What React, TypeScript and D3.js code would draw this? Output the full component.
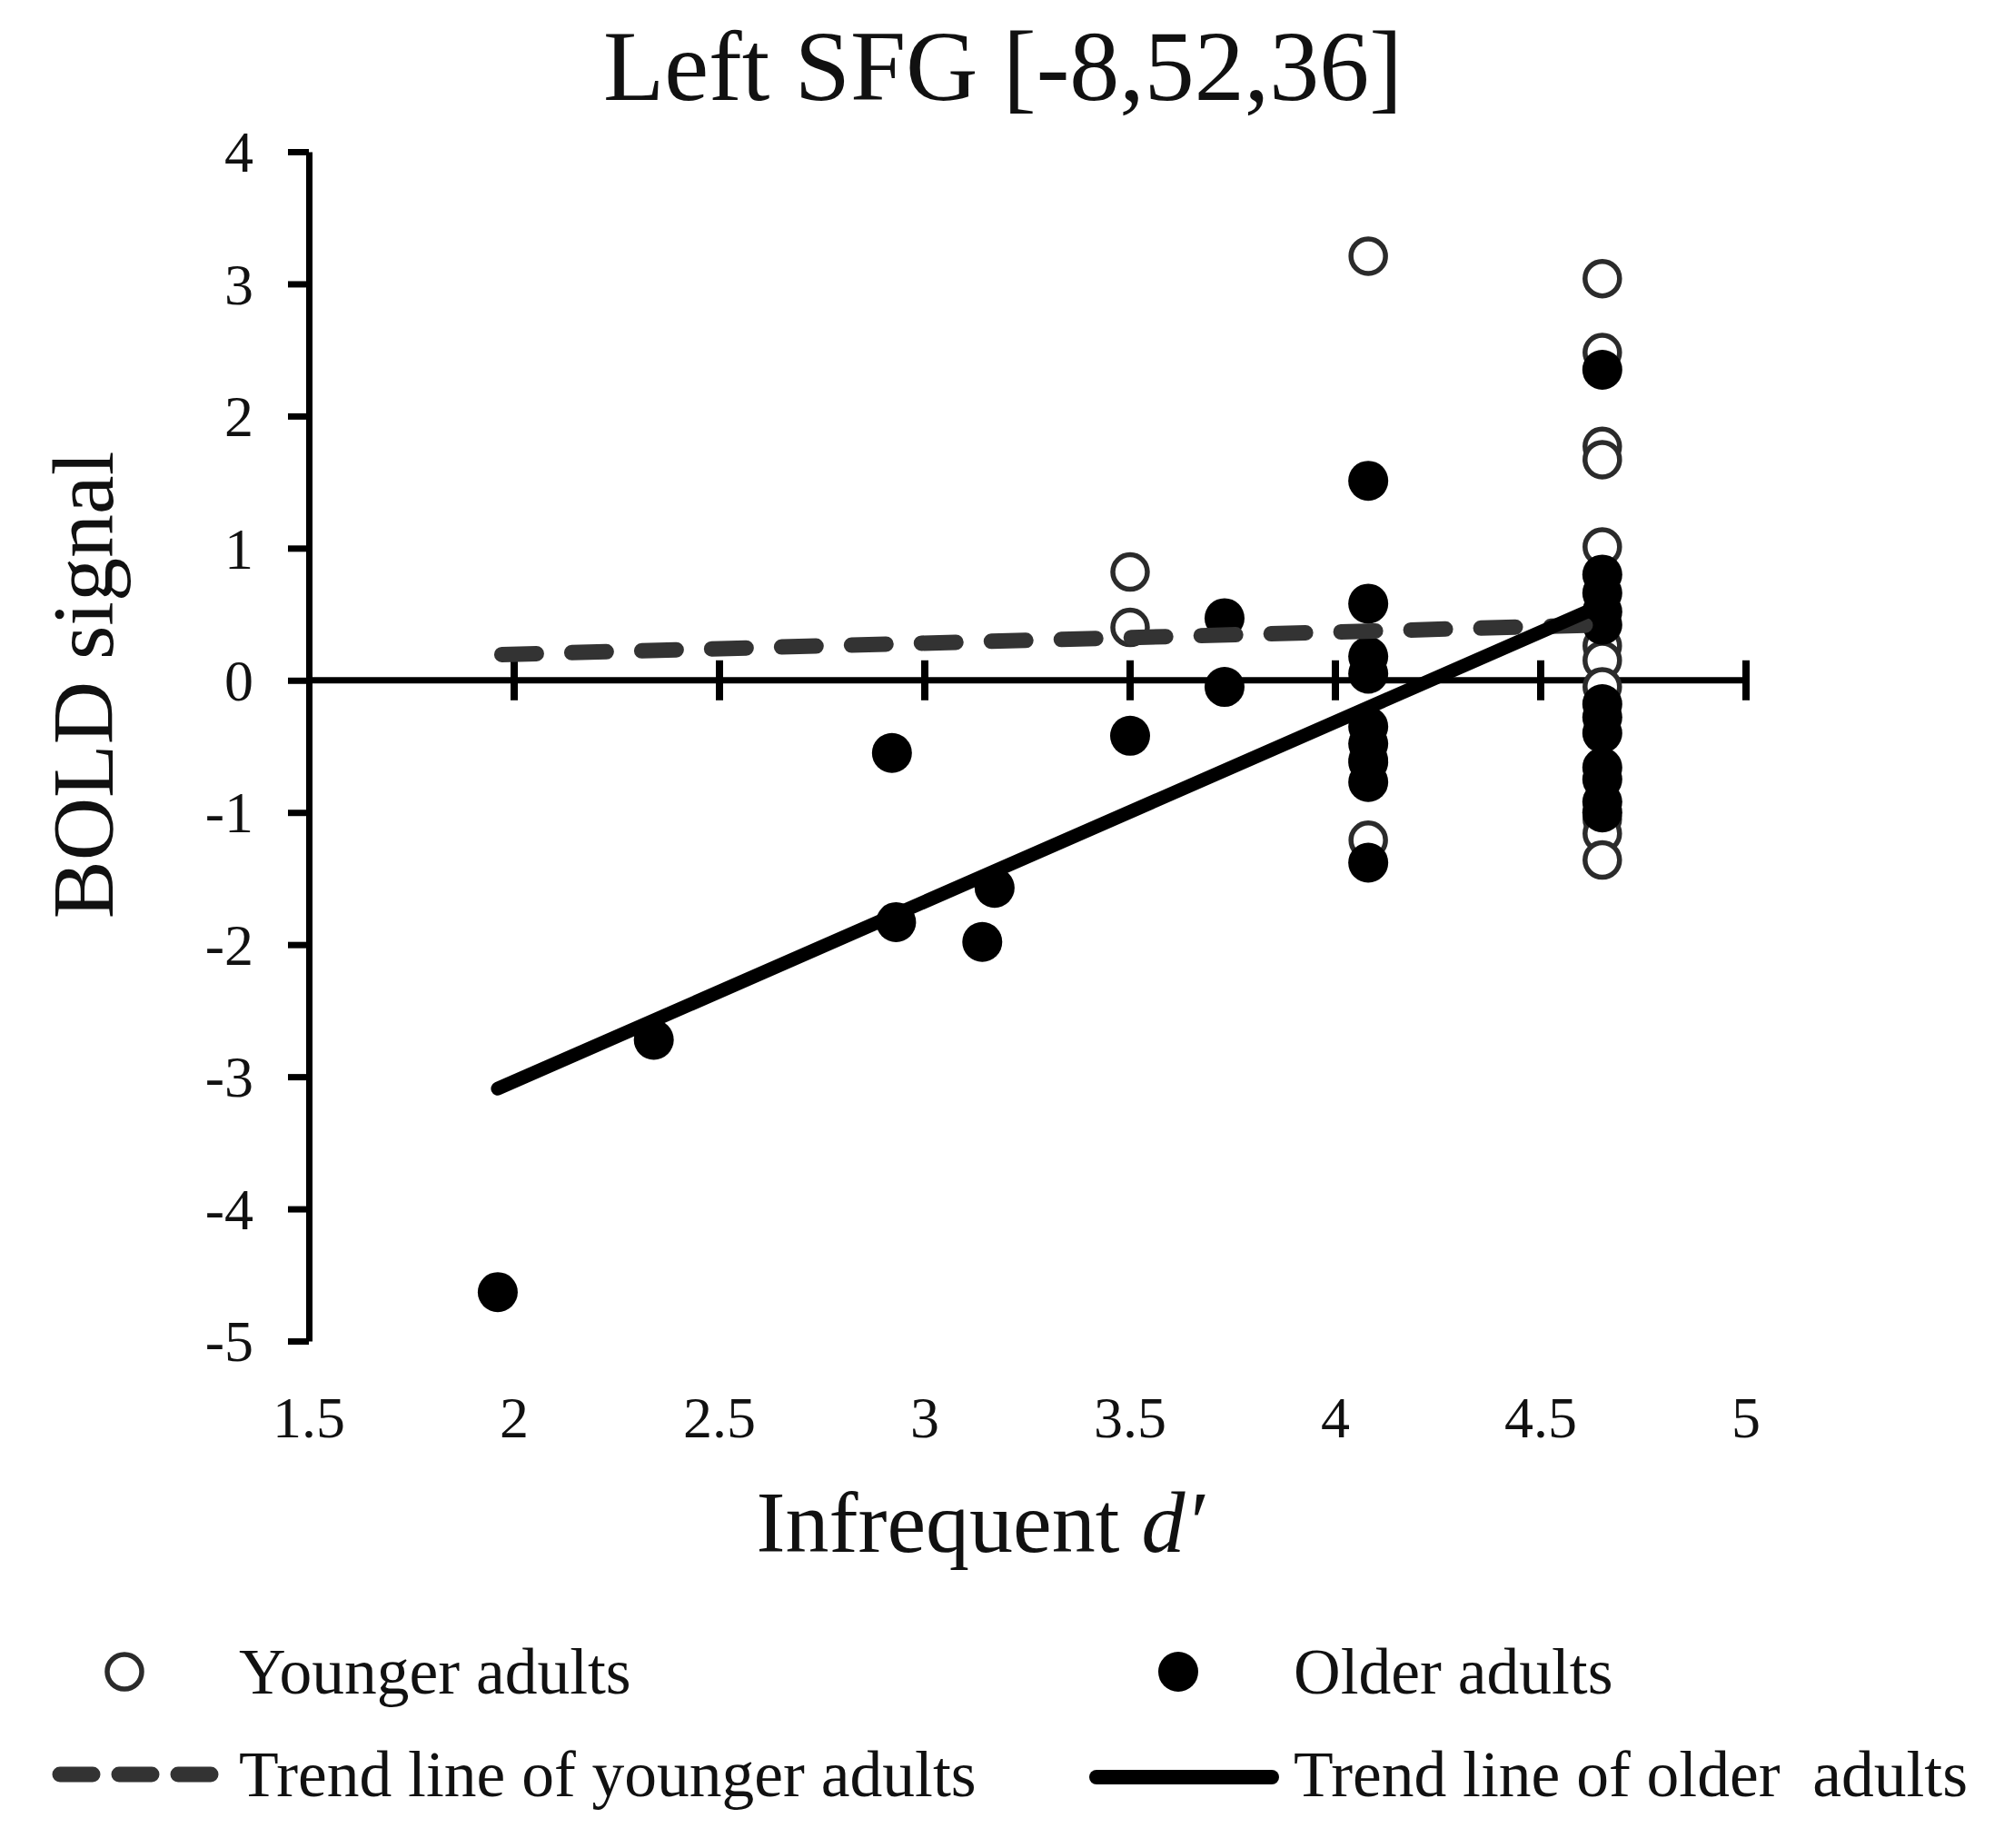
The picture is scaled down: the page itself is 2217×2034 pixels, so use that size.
import { useEffect, useRef } from 'react';
import * as d3 from 'd3';

// values
const xTicks = [1.5, 2, 2.5, 3, 3.5, 4, 4.5, 5];
const yTicks = [-5, -4, -3, -2, -1, 0, 1, 2, 3, 4];

const youngerPoints: [number, number][] = [
  [3.5, 0.82], [3.5, 0.40],
  [4.08, 3.21], [4.08, -0.6], [4.08, -1.21],
  [4.65, 3.04], [4.65, 2.48], [4.65, 1.77], [4.65, 1.67], [4.65, 1.01],
  [4.65, 0.26], [4.65, 0.15], [4.65, -0.05], [4.65, -1.05], [4.65, -1.16], [4.65, -1.36],
];

const olderPoints: [number, number][] = [
  [1.96, -4.63], [2.34, -2.72], [2.92, -0.55], [2.93, -1.83], [3.14, -1.98], [3.17, -1.57],
  [3.5, -0.42], [3.73, 0.47], [3.73, -0.05],
  [4.08, 1.51], [4.08, 0.58], [4.08, 0.18], [4.08, 0.05], [4.08, -0.35], [4.08, -0.48],
  [4.08, -0.62], [4.08, -0.77], [4.08, -1.38],
  [4.65, 2.35], [4.65, 0.80], [4.65, 0.66], [4.65, 0.52], [4.65, 0.42], [4.65, -0.18],
  [4.65, -0.28], [4.65, -0.40], [4.65, -0.66], [4.65, -0.75], [4.65, -0.92], [4.65, -1.0],
];

const youngerTrend: [number, number][] = [[1.97, 0.195], [4.65, 0.42]];
const olderTrend: [number, number][] = [[1.96, -3.09], [4.65, 0.57]];

const W = 2217;
const H = 2034;
const FONT = '"Liberation Serif", "Times New Roman", serif';

export default function App() {
  const svgRef = useRef<SVGSVGElement>(null);

  useEffect(() => {
    document.body.style.margin = '0';
    if (!svgRef.current) return;
    const svg = d3.select(svgRef.current);
    svg.selectAll('*').remove();

    const x = d3.scaleLinear().domain([1.5, 5]).range([340, 1922]);
    const y = d3.scaleLinear().domain([-5, 4]).range([1476, 167]);

    // y axis
    const yAxis = d3.axisLeft(y)
      .tickValues(yTicks)
      .tickSize(23)
      .tickSizeOuter(0)
      .tickPadding(38)
      .tickFormat((d) => String(d));
    const gy = svg.append('g')
      .attr('transform', `translate(${x(1.5)},0)`)
      .call(yAxis);
    gy.select('.domain').attr('stroke', '#000').attr('stroke-width', 7);
    gy.selectAll('.tick line').attr('stroke', '#000').attr('stroke-width', 7);
    gy.selectAll('.tick text')
      .attr('font-family', FONT)
      .attr('font-size', 64)
      .attr('fill', '#111')
      .attr('dy', '0.34em');

    // x axis along y = 0
    svg.append('line')
      .attr('x1', x(1.5)).attr('x2', x(5))
      .attr('y1', y(0)).attr('y2', y(0))
      .attr('stroke', '#000').attr('stroke-width', 7);
    svg.append('g').selectAll('line')
      .data(xTicks.slice(1))
      .join('line')
      .attr('x1', (d) => x(d)).attr('x2', (d) => x(d))
      .attr('y1', y(0) - 22).attr('y2', y(0) + 22)
      .attr('stroke', '#000').attr('stroke-width', 8);

    // x tick labels below the plot
    svg.append('g').selectAll('text')
      .data(xTicks)
      .join('text')
      .attr('x', (d) => x(d))
      .attr('y', 1582)
      .attr('text-anchor', 'middle')
      .attr('font-family', FONT)
      .attr('font-size', 64)
      .attr('fill', '#111')
      .text((d) => String(d));

    // younger adults: open circles
    svg.append('g').selectAll('circle')
      .data(youngerPoints)
      .join('circle')
      .attr('cx', (d) => x(d[0]))
      .attr('cy', (d) => y(d[1]))
      .attr('r', 19)
      .attr('fill', '#fff')
      .attr('stroke', '#2b2b2b')
      .attr('stroke-width', 5.5);

    // older adults: filled circles
    svg.append('g').selectAll('circle')
      .data(olderPoints)
      .join('circle')
      .attr('cx', (d) => x(d[0]))
      .attr('cy', (d) => y(d[1]))
      .attr('r', 22)
      .attr('fill', '#000');

    const line = d3.line<[number, number]>()
      .x((d) => x(d[0]))
      .y((d) => y(d[1]));

    svg.append('path')
      .datum(youngerTrend)
      .attr('d', line)
      .attr('fill', 'none')
      .attr('stroke', '#333')
      .attr('stroke-width', 17)
      .attr('stroke-linecap', 'round')
      .attr('stroke-dasharray', '38 39');

    svg.append('path')
      .datum(olderTrend)
      .attr('d', line)
      .attr('fill', 'none')
      .attr('stroke', '#000')
      .attr('stroke-width', 15)
      .attr('stroke-linecap', 'round');

    // titles
    svg.append('text')
      .attr('x', 1104).attr('y', 110)
      .attr('text-anchor', 'middle')
      .attr('font-family', FONT)
      .attr('font-size', 110)
      .attr('fill', '#111')
      .text('Left SFG [-8,52,36]');

    const xt = svg.append('text')
      .attr('x', 1079).attr('y', 1708)
      .attr('text-anchor', 'middle')
      .attr('font-family', FONT)
      .attr('font-size', 96)
      .attr('fill', '#111');
    xt.append('tspan').text('Infrequent ');
    xt.append('tspan').attr('font-style', 'italic').text('d\u2032');

    svg.append('text')
      .attr('transform', `translate(124,754) rotate(-90)`)
      .attr('text-anchor', 'middle')
      .attr('font-family', FONT)
      .attr('font-size', 96)
      .attr('fill', '#111')
      .text('BOLD signal');

    // legend
    const lg = svg.append('g')
      .attr('font-family', FONT)
      .attr('font-size', 71.5)
      .attr('fill', '#111');

    lg.append('circle')
      .attr('cx', 137).attr('cy', 1840).attr('r', 19)
      .attr('fill', '#fff').attr('stroke', '#2b2b2b').attr('stroke-width', 5.5);
    lg.append('text').attr('x', 263).attr('y', 1864).text('Younger adults');

    lg.append('circle')
      .attr('cx', 1297).attr('cy', 1840).attr('r', 22).attr('fill', '#000');
    lg.append('text').attr('x', 1424).attr('y', 1864).text('Older adults');

    lg.append('line')
      .attr('x1', 66).attr('x2', 232).attr('y1', 1953).attr('y2', 1953)
      .attr('stroke', '#333').attr('stroke-width', 17)
      .attr('stroke-linecap', 'round').attr('stroke-dasharray', '36 29');
    lg.append('text').attr('x', 263).attr('y', 1977).text('Trend line of younger adults');

    lg.append('line')
      .attr('x1', 1207).attr('x2', 1400).attr('y1', 1956).attr('y2', 1956)
      .attr('stroke', '#000').attr('stroke-width', 16)
      .attr('stroke-linecap', 'round');
    lg.append('text').attr('x', 1424).attr('y', 1977)
      .style('white-space', 'pre')
      .text('Trend line of older  adults');
  }, []);

  return <svg ref={svgRef} width={W} height={H} style={{ display: 'block', background: '#fff' }} />;
}
